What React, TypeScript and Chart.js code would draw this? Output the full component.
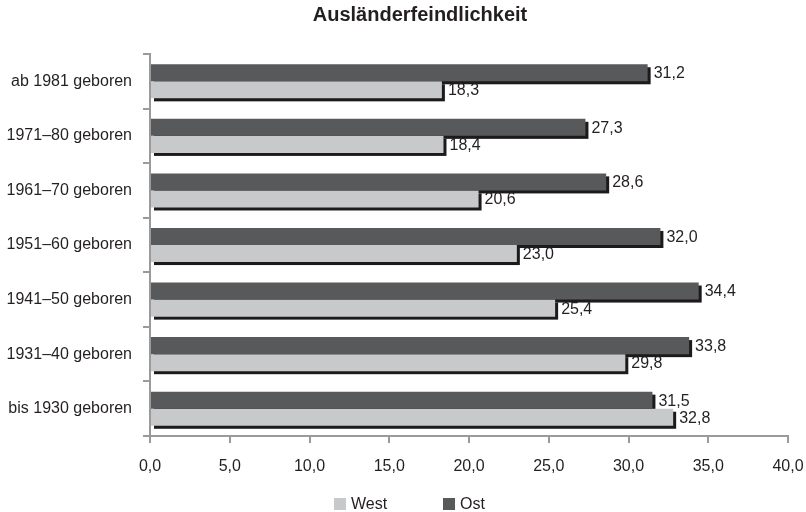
import React, { useEffect, useRef } from "react";
import { Chart, registerables } from "chart.js";

Chart.register(...registerables);

const categories = [
  "ab 1981 geboren",
  "1971–80 geboren",
  "1961–70 geboren",
  "1951–60 geboren",
  "1941–50 geboren",
  "1931–40 geboren",
  "bis 1930 geboren",
];
const ostValues = [31.2, 27.3, 28.6, 32.0, 34.4, 33.8, 31.5];
const westValues = [18.3, 18.4, 20.6, 23.0, 25.4, 29.8, 32.8];
const xMin = 0;
const xMax = 40;
const xStep = 5;
const chartTitle = "Ausländerfeindlichkeit";
const seriesNames = { ost: "Ost", west: "West" };

const OST_COLOR = "#58595b";
const WEST_COLOR = "#c8c9cb";
const AXIS_COLOR = "#9a9a9a";
const TEXT_COLOR = "#231f20";
const SANS = "'Liberation Sans', Arial, sans-serif";
const LABEL_SIZE = 16;

const fmt = (v: number) => v.toFixed(1).replace(".", ",");

const shadowPlugin = {
  id: "barShadow",
  beforeDatasetsDraw(chart: any) {
    const ctx = chart.ctx;
    ctx.save();
    ctx.fillStyle = "#1c1a1b";
    chart.data.datasets.forEach((_: any, i: number) => {
      const meta = chart.getDatasetMeta(i);
      meta.data.forEach((el: any) => {
        const p = el.getProps(["x", "y", "base", "height"], true);
        ctx.fillRect(Math.min(p.base, p.x) + 3, p.y - p.height / 2 + 3, Math.abs(p.x - p.base), p.height);
      });
    });
    ctx.restore();
  },
};

const valueLabelPlugin = {
  id: "valueLabels",
  afterDatasetsDraw(chart: any) {
    const ctx = chart.ctx;
    ctx.save();
    ctx.font = `${LABEL_SIZE}px ${SANS}`;
    ctx.fillStyle = TEXT_COLOR;
    ctx.textAlign = "left";
    ctx.textBaseline = "middle";
    chart.data.datasets.forEach((ds: any, i: number) => {
      const meta = chart.getDatasetMeta(i);
      meta.data.forEach((el: any, j: number) => {
        const p = el.getProps(["x", "y"], true);
        ctx.fillText(fmt(ds.data[j]), p.x + 6, p.y + 1);
      });
    });
    ctx.restore();
  },
};

const titleLegendPlugin = {
  id: "titleLegend",
  afterDraw(chart: any) {
    const ctx = chart.ctx;
    ctx.save();
    ctx.fillStyle = TEXT_COLOR;
    ctx.font = `bold 20px ${SANS}`;
    ctx.textAlign = "center";
    ctx.textBaseline = "middle";
    ctx.fillText(chartTitle, 420, 15);

    // legend: West first, then Ost
    const order = [1, 0];
    const positions = [334, 443];
    ctx.font = `${LABEL_SIZE}px ${SANS}`;
    ctx.textAlign = "left";
    order.forEach((di, k) => {
      const ds = chart.data.datasets[di];
      const x = positions[k];
      ctx.fillStyle = ds.backgroundColor;
      ctx.fillRect(x, 498, 12, 12);
      ctx.fillStyle = TEXT_COLOR;
      ctx.fillText(ds.label, x + 17, 505);
    });
    ctx.restore();
  },
};

export default function App() {
  const canvasRef = useRef<HTMLCanvasElement | null>(null);

  useEffect(() => {
    if (!canvasRef.current) return;
    const chart = new Chart(canvasRef.current, {
      type: "bar",
      data: {
        labels: categories,
        datasets: [
          {
            label: seriesNames.ost,
            data: ostValues,
            backgroundColor: OST_COLOR,
            categoryPercentage: 0.625,
            barPercentage: 1,
          },
          {
            label: seriesNames.west,
            data: westValues,
            backgroundColor: WEST_COLOR,
            categoryPercentage: 0.625,
            barPercentage: 1,
          },
        ],
      },
      options: {
        indexAxis: "y",
        animation: false,
        responsive: true,
        maintainAspectRatio: false,
        layout: { padding: { top: 54, left: 0, right: 18, bottom: 36 } },
        plugins: {
          legend: { display: false },
          title: { display: false },
          tooltip: { enabled: false },
        },
        scales: {
          x: {
            type: "linear",
            min: xMin,
            max: xMax,
            afterFit: (s: any) => {
              s.height = 40;
              s.paddingLeft = 0;
              s.paddingRight = 0;
            },
            ticks: {
              stepSize: xStep,
              padding: 14,
              color: TEXT_COLOR,
              font: { family: SANS, size: LABEL_SIZE },
              callback: (v: any) => fmt(Number(v)),
            },
            grid: {
              display: true,
              drawOnChartArea: false,
              drawTicks: true,
              tickLength: 7,
              color: AXIS_COLOR,
              lineWidth: 2,
            },
            border: { display: true, color: AXIS_COLOR, width: 2 },
          },
          y: {
            type: "category",
            afterFit: (s: any) => {
              s.width = 150;
            },
            ticks: {
              padding: 11,
              color: TEXT_COLOR,
              font: { family: SANS, size: LABEL_SIZE },
            },
            grid: {
              display: true,
              offset: true,
              drawOnChartArea: false,
              drawTicks: true,
              tickLength: 7,
              color: AXIS_COLOR,
              lineWidth: 2,
            },
            border: { display: true, color: AXIS_COLOR, width: 2 },
          },
        },
      },
      plugins: [shadowPlugin, valueLabelPlugin, titleLegendPlugin],
    } as any);
    return () => chart.destroy();
  }, []);

  return (
    <div style={{ position: "absolute", left: 0, top: 0, width: 806, height: 512, background: "#fff" }}>
      <canvas ref={canvasRef} />
    </div>
  );
}
